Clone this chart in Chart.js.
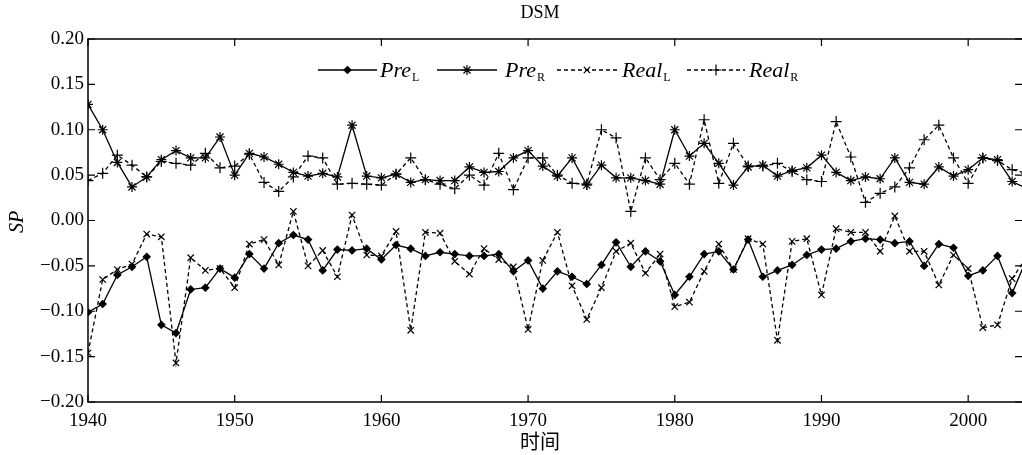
<!DOCTYPE html>
<html>
<head>
<meta charset="utf-8">
<script src="https://cdn.jsdelivr.net/npm/chart.js@4.4.1/dist/chart.umd.min.js"></script>
<style>
  html, body { margin: 0; padding: 0; background: #fff; }
  #wrap { width: 1022px; height: 455px; }
</style>
</head>
<body>
<div id="wrap"><canvas id="chart" width="1022" height="455"></canvas></div>
<script>
const years = [1940, 1941, 1942, 1943, 1944, 1945, 1946, 1947, 1948, 1949,
  1950, 1951, 1952, 1953, 1954, 1955, 1956, 1957, 1958, 1959,
  1960, 1961, 1962, 1963, 1964, 1965, 1966, 1967, 1968, 1969,
  1970, 1971, 1972, 1973, 1974, 1975, 1976, 1977, 1978, 1979,
  1980, 1981, 1982, 1983, 1984, 1985, 1986, 1987, 1988, 1989,
  1990, 1991, 1992, 1993, 1994, 1995, 1996, 1997, 1998, 1999,
  2000, 2001, 2002, 2003, 2004];

const preL = [-0.101, -0.092, -0.060, -0.051, -0.040, -0.115, -0.124, -0.076, -0.074, -0.053,
  -0.063, -0.037, -0.053, -0.025, -0.016, -0.021, -0.055, -0.032, -0.033, -0.031,
  -0.043, -0.027, -0.031, -0.039, -0.035, -0.037, -0.039, -0.039, -0.037, -0.056,
  -0.044, -0.075, -0.056, -0.062, -0.070, -0.049, -0.024, -0.051, -0.034, -0.045,
  -0.082, -0.062, -0.037, -0.034, -0.054, -0.021, -0.062, -0.055, -0.049, -0.038,
  -0.032, -0.031, -0.023, -0.020, -0.021, -0.025, -0.023, -0.050, -0.026, -0.030,
  -0.061, -0.055, -0.039, -0.080, -0.042];

const preR = [0.128, 0.100, 0.064, 0.037, 0.048, 0.067, 0.077, 0.069, 0.069, 0.092,
  0.050, 0.074, 0.070, 0.062, 0.053, 0.049, 0.052, 0.048, 0.105, 0.049,
  0.047, 0.051, 0.042, 0.045, 0.044, 0.044, 0.059, 0.053, 0.054, 0.069,
  0.077, 0.060, 0.049, 0.069, 0.039, 0.061, 0.047, 0.047, 0.044, 0.040,
  0.100, 0.071, 0.085, 0.063, 0.039, 0.059, 0.061, 0.049, 0.055, 0.058,
  0.072, 0.053, 0.044, 0.048, 0.046, 0.069, 0.042, 0.040, 0.059, 0.049,
  0.056, 0.069, 0.067, 0.043, 0.035];

const realL = [-0.146, -0.065, -0.054, -0.048, -0.015, -0.018, -0.157, -0.041, -0.055, -0.053,
  -0.074, -0.026, -0.021, -0.049, 0.010, -0.050, -0.033, -0.062, 0.006, -0.038,
  -0.039, -0.012, -0.121, -0.013, -0.014, -0.045, -0.059, -0.031, -0.043, -0.051,
  -0.120, -0.044, -0.013, -0.072, -0.109, -0.074, -0.034, -0.025, -0.058, -0.037,
  -0.095, -0.090, -0.056, -0.026, -0.054, -0.020, -0.026, -0.132, -0.023, -0.020,
  -0.082, -0.009, -0.013, -0.013, -0.034, 0.005, -0.034, -0.034, -0.071, -0.038,
  -0.053, -0.118, -0.115, -0.064, -0.040];

const realR = [0.044, 0.052, 0.072, 0.061, 0.048, 0.065, 0.063, 0.061, 0.074, 0.058,
  0.060, 0.073, 0.042, 0.032, 0.048, 0.071, 0.069, 0.040, 0.041, 0.040,
  0.039, 0.051, 0.069, 0.045, 0.040, 0.035, 0.050, 0.039, 0.074, 0.034,
  0.069, 0.069, 0.050, 0.041, 0.040, 0.100, 0.091, 0.010, 0.069, 0.045,
  0.063, 0.040, 0.111, 0.041, 0.085, 0.060, 0.060, 0.063, 0.054, 0.045,
  0.043, 0.109, 0.070, 0.020, 0.030, 0.037, 0.058, 0.089, 0.105, 0.069,
  0.041, 0.069, 0.066, 0.056, 0.052];

const xTicks = [1940, 1950, 1960, 1970, 1980, 1990, 2000];
const yTicks = [-0.20, -0.15, -0.10, -0.05, 0.00, 0.05, 0.10, 0.15, 0.20];
const yTickLabels = ['\u22120.20', '\u22120.15', '\u22120.10', '\u22120.05', '0.00', '0.05', '0.10', '0.15', '0.20'];

const seriesNames = ['Pre', 'Pre', 'Real', 'Real'];
const seriesSubs = ['L', 'R', 'L', 'R'];

const serif = '"Liberation Serif", "DejaVu Serif", serif';

function pts(vals) {
  return years.map((y, i) => ({ x: y, y: vals[i] }));
}

function ds(vals, style, radius, dash) {
  return {
    data: pts(vals),
    borderColor: '#000',
    backgroundColor: '#000',
    borderWidth: 1.3,
    borderDash: dash,
    pointStyle: style,
    pointRadius: radius,
    pointBorderWidth: 1.2,
    pointBorderColor: '#000',
    pointBackgroundColor: '#000',
    tension: 0,
    fill: false
  };
}

// frame (right side is cut off in the source), inward ticks, titles, legend
const decor = {
  id: 'decor',
  afterDraw(chart) {
    const ctx = chart.ctx;
    const a = chart.chartArea;
    const xs = chart.scales.x, ys = chart.scales.y;
    ctx.save();
    ctx.strokeStyle = '#000';
    ctx.lineWidth = 1.5;
    ctx.beginPath();
    ctx.moveTo(a.right, a.top); ctx.lineTo(a.left, a.top);
    ctx.lineTo(a.left, a.bottom); ctx.lineTo(a.right, a.bottom);
    ctx.stroke();
    ctx.lineWidth = 1.2;
    const tl = 7;
    ctx.beginPath();
    xTicks.forEach(v => {
      const px = xs.getPixelForValue(v);
      ctx.moveTo(px, a.bottom); ctx.lineTo(px, a.bottom - tl);
      ctx.moveTo(px, a.top); ctx.lineTo(px, a.top + tl);
    });
    yTicks.forEach(v => {
      const py = ys.getPixelForValue(v);
      ctx.moveTo(a.left, py); ctx.lineTo(a.left + tl, py);
      ctx.moveTo(a.right, py); ctx.lineTo(a.right - tl, py);
    });
    ctx.stroke();

    ctx.fillStyle = '#000';
    ctx.textAlign = 'center';
    ctx.textBaseline = 'middle';
    ctx.font = '18px ' + serif;
    ctx.fillText('DSM', 540, 13);

    ctx.font = '20px "Noto Sans CJK SC", sans-serif';
    ctx.fillText('时间', 540, 441);

    ctx.save();
    ctx.translate(18, 222);
    ctx.rotate(-Math.PI / 2);
    ctx.font = 'italic 20px ' + serif;
    ctx.fillText('SP', 0, 0);
    ctx.restore();

    // legend
    const ly = 70;
    const items = [
      { x0: 318, x1: 377, tx: 380 },
      { x0: 437, x1: 497, tx: 505 },
      { x0: 557, x1: 617, tx: 622 },
      { x0: 687, x1: 745, tx: 749 }
    ];
    chart.data.datasets.forEach((d, i) => {
      const it = items[i];
      ctx.save();
      ctx.lineWidth = 1.3;
      ctx.setLineDash(d.borderDash || []);
      ctx.beginPath();
      ctx.moveTo(it.x0, ly); ctx.lineTo(it.x1, ly);
      ctx.stroke();
      ctx.restore();
      ctx.lineWidth = 1.2;
      Chart.helpers.drawPoint(ctx, { pointStyle: d.pointStyle, radius: d.pointRadius, borderWidth: 1.2 },
        (it.x0 + it.x1) / 2, ly);
      ctx.fillStyle = '#000';
      ctx.textAlign = 'left';
      ctx.textBaseline = 'alphabetic';
      ctx.font = 'italic 22px ' + serif;
      ctx.fillText(seriesNames[i], it.tx, ly + 7);
      const w = ctx.measureText(seriesNames[i]).width;
      ctx.font = '12px ' + serif;
      ctx.fillText(seriesSubs[i], it.tx + w + 1, ly + 11);
    });
    ctx.restore();
  }
};

new Chart(document.getElementById('chart'), {
  type: 'line',
  data: {
    datasets: [
      ds(preL, 'rectRot', 3.5, []),
      ds(preR, 'star', 5, []),
      ds(realL, 'crossRot', 4.5, [4, 3]),
      ds(realR, 'cross', 5.5, [4, 3])
    ]
  },
  options: {
    responsive: false,
    animation: false,
    layout: { autoPadding: false, padding: { top: 39, right: 0, left: 0, bottom: 0 } },
    plugins: {
      legend: { display: false },
      title: { display: false },
      tooltip: { enabled: false }
    },
    scales: {
      x: {
        type: 'linear',
        min: 1940,
        max: 2003.67,
        afterFit(s) { s.height = 53; },
        afterBuildTicks(s) { s.ticks = xTicks.map(v => ({ value: v })); },
        grid: { display: false, drawTicks: false },
        border: { display: false },
        ticks: {
          color: '#000',
          padding: 8,
          maxRotation: 0,
          autoSkip: false,
          font: { family: serif, size: 19 },
          callback: v => String(v)
        }
      },
      y: {
        min: -0.2,
        max: 0.2,
        afterFit(s) { s.width = 88; },
        afterBuildTicks(s) { s.ticks = yTicks.map(v => ({ value: v })); },
        grid: { display: false, drawTicks: false },
        border: { display: false },
        ticks: {
          color: '#000',
          padding: 4,
          autoSkip: false,
          font: { family: serif, size: 19 },
          callback: (v, i) => yTickLabels[i]
        }
      }
    }
  },
  plugins: [decor]
});
</script>
</body>
</html>
